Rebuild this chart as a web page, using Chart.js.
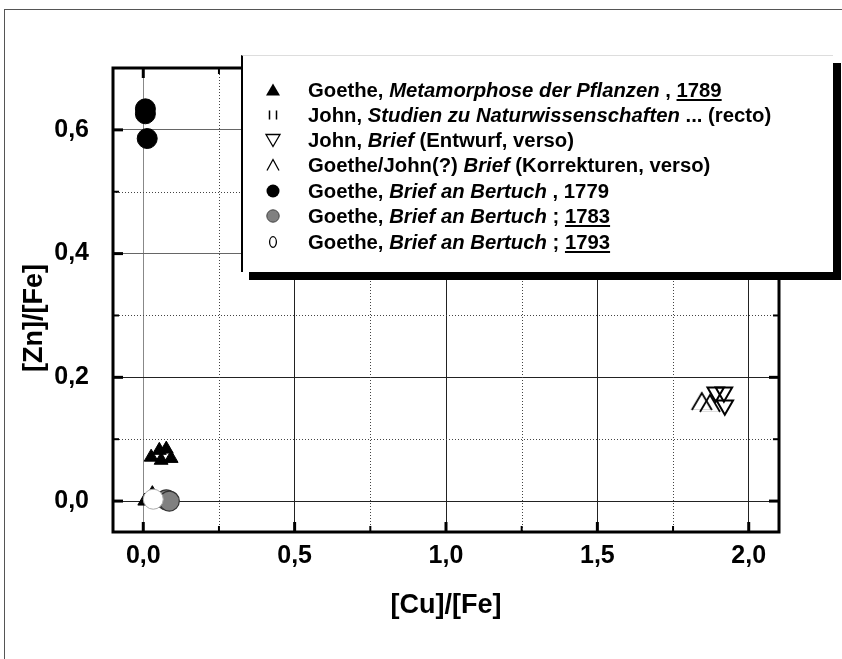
<!DOCTYPE html>
<html><head><meta charset="utf-8">
<script src="https://cdn.jsdelivr.net/npm/chart.js@4.4.1/dist/chart.umd.min.js"></script>
<style>
html,body{margin:0;padding:0;background:#fff;}
#wrap{position:relative;width:842px;height:659px;overflow:hidden;background:#fff;}
#frame{position:absolute;left:4px;top:9px;width:900px;height:700px;border-left:1.5px solid #555;border-top:1.5px solid #555;}
#c{position:absolute;left:0;top:0;}
#legend{position:absolute;left:241px;top:55px;width:592px;height:217px;background:#fff;border-left:2px solid #000;border-top:1px solid #ddd;box-shadow:8px 8px 0 #000;box-sizing:border-box;font-family:"Liberation Sans",Arial,sans-serif;font-weight:bold;font-size:20.3px;color:#000;}
.row{position:absolute;left:0;height:24px;line-height:24px;white-space:nowrap;}
.sym{position:absolute;left:20px;top:2px;}
.txt{position:absolute;left:65px;top:0;}
.txt i{font-style:italic;}
.txt u{text-decoration:underline;}
</style></head>
<body>
<div id="wrap">
  <div id="frame"></div>
  <canvas id="c" width="842" height="659"></canvas>
  <div id="legend"></div>
</div>
<script>
// ---------- data ----------
const seriesLabels = [
  [["Goethe, ",""],["Metamorphose der Pflanzen","i"],[" , ",""],["1789","u"]],
  [["John, ",""],["Studien zu Naturwissenschaften","i"],[" ... (recto)",""]],
  [["John, ",""],["Brief","i"],[" (Entwurf, verso)",""]],
  [["Goethe/John(?) ",""],["Brief","i"],[" (Korrekturen, verso)",""]],
  [["Goethe, ",""],["Brief an Bertuch","i"],[" , 1779",""]],
  [["Goethe, ",""],["Brief an Bertuch","i"],[" ; ",""],["1783","u"]],
  [["Goethe, ",""],["Brief an Bertuch","i"],[" ; ",""],["1793","u"]]
];
const metamorphoseX = [0.026, 0.053, 0.076, 0.092, 0.059, 0.030, 0.005];
const metamorphoseY = [0.071, 0.082, 0.084, 0.069, 0.066, 0.012, 0.000];
const studienX = [0.030];
const studienY = [0.003];
const entwurfX = [1.891, 1.918, 1.921];
const entwurfY = [0.176, 0.176, 0.155];
const korrekturX = [1.845, 1.872];
const korrekturY = [0.161, 0.158];
const bertuch1779X = [0.007, 0.007, 0.013];
const bertuch1779Y = [0.634, 0.626, 0.586];
const bertuch1783X = [0.076, 0.086];
const bertuch1783Y = [0.002, 0.000];
const bertuch1793X = [0.033];
const bertuch1793Y = [0.003];

const xMajorTicks = [0, 0.5, 1.0, 1.5, 2.0];
const xMinorTicks = [0.25, 0.75, 1.25, 1.75];
const yMajorTicks = [0, 0.2, 0.4, 0.6];
const yMinorTicks = [0.1, 0.3, 0.5];
const xTitle = "[Cu]/[Fe]";
const yTitle = "[Zn]/[Fe]";

// ---------- helpers ----------
const pts = (xs, ys) => xs.map((x, i) => ({x: x, y: ys[i]}));
const fmt = v => v.toFixed(1).replace('.', ',');

function chevronImg(w, h, lw, base) {
  const c = document.createElement('canvas');
  c.width = w + 4; c.height = h + 4;
  const g = c.getContext('2d');
  if (base) { g.strokeStyle = '#d8d8d8'; g.lineWidth = 1; g.beginPath(); g.moveTo(2, h + 1.5); g.lineTo(w + 2, h + 1.5); g.stroke(); }
  g.strokeStyle = '#000'; g.lineWidth = lw; g.lineJoin = 'miter';
  g.beginPath(); g.moveTo(2, h + 2); g.lineTo(w / 2 + 2, 2); g.lineTo(w + 2, h + 2); g.stroke();
  return c;
}

// legend symbols
function legendSym(k) {
  const c = document.createElement('canvas');
  c.width = 20; c.height = 20;
  const g = c.getContext('2d');
  const cx = 10, cy = 10;
  g.fillStyle = '#000'; g.strokeStyle = '#000'; g.lineWidth = 1.3;
  g.beginPath();
  if (k === 0) { g.moveTo(cx, cy - 6.5); g.lineTo(cx + 7, cy + 5.5); g.lineTo(cx - 7, cy + 5.5); g.closePath(); g.fill(); }
  else if (k === 1) { g.lineWidth = 1.5; g.moveTo(cx - 3.5, cy - 4.5); g.lineTo(cx - 3.5, cy + 4.5); g.moveTo(cx + 3.5, cy - 4.5); g.lineTo(cx + 3.5, cy + 4.5); g.stroke(); }
  else if (k === 2) { g.moveTo(cx - 7, cy - 5.5); g.lineTo(cx + 7, cy - 5.5); g.lineTo(cx, cy + 6.5); g.closePath(); g.stroke(); }
  else if (k === 3) { g.moveTo(cx - 6, cy + 5.5); g.lineTo(cx, cy - 5.5); g.lineTo(cx + 6, cy + 5.5); g.stroke(); }
  else if (k === 4) { g.arc(cx, cy, 6.5, 0, Math.PI * 2); g.fill(); }
  else if (k === 5) { g.fillStyle = '#808080'; g.strokeStyle = '#444'; g.lineWidth = 1; g.arc(cx, cy, 6.2, 0, Math.PI * 2); g.fill(); g.stroke(); }
  else if (k === 6) { g.lineWidth = 1.3; g.ellipse(cx, cy, 3.4, 5.3, 0, 0, Math.PI * 2); g.stroke(); }
  return c;
}

// build legend
const legend = document.getElementById('legend');
const rowCenters = [34, 59, 84, 109, 135, 160, 186];
seriesLabels.forEach((segs, i) => {
  const row = document.createElement('div');
  row.className = 'row';
  row.style.top = (rowCenters[i] - 12) + 'px';
  row.style.width = '585px';
  const s = document.createElement('div'); s.className = 'sym'; s.appendChild(legendSym(i)); row.appendChild(s);
  const t = document.createElement('div'); t.className = 'txt';
  segs.forEach(([txt, st]) => {
    let el;
    if (st === 'i') el = document.createElement('i');
    else if (st === 'u') el = document.createElement('u');
    else el = document.createElement('span');
    el.textContent = txt;
    el.style.whiteSpace = 'pre';
    t.appendChild(el);
  });
  row.appendChild(t);
  legend.appendChild(row);
});

const tickFont = {family: '"Liberation Sans", Arial, sans-serif', weight: 'bold', size: 25};
const titleFont = {family: '"Liberation Sans", Arial, sans-serif', weight: 'bold', size: 27};

// ---------- plugin: minor grid, inward ticks, frame, y title ----------
const framePlugin = {
  id: 'framePlugin',
  beforeDatasetsDraw(chart) {
    const {ctx, chartArea: a, scales: {x, y}} = chart;
    ctx.save();
    ctx.strokeStyle = '#444'; ctx.lineWidth = 1; ctx.setLineDash([1, 2]);
    xMinorTicks.forEach(v => { const px = Math.round(x.getPixelForValue(v)) + 0.5; ctx.beginPath(); ctx.moveTo(px, a.top); ctx.lineTo(px, a.bottom); ctx.stroke(); });
    yMinorTicks.forEach(v => { const py = Math.round(y.getPixelForValue(v)) + 0.5; ctx.beginPath(); ctx.moveTo(a.left, py); ctx.lineTo(a.right, py); ctx.stroke(); });
    ctx.restore();
  },
  afterDatasetsDraw(chart) {
    const {ctx, chartArea: a, scales: {x, y}} = chart;
    ctx.save();
    ctx.strokeStyle = '#000';
    const tick = (x1, y1, x2, y2, w) => { ctx.lineWidth = w; ctx.beginPath(); ctx.moveTo(x1, y1); ctx.lineTo(x2, y2); ctx.stroke(); };
    xMajorTicks.forEach(v => { const px = x.getPixelForValue(v); tick(px, a.bottom, px, a.bottom - 10, 3); tick(px, a.top, px, a.top + 10, 3); });
    xMinorTicks.forEach(v => { const px = x.getPixelForValue(v); tick(px, a.bottom, px, a.bottom - 6, 2); tick(px, a.top, px, a.top + 6, 2); });
    yMajorTicks.forEach(v => { const py = y.getPixelForValue(v); tick(a.left, py, a.left + 10, py, 3); tick(a.right, py, a.right - 10, py, 3); });
    yMinorTicks.forEach(v => { const py = y.getPixelForValue(v); tick(a.left, py, a.left + 6, py, 2); tick(a.right, py, a.right - 6, py, 2); });
    ctx.lineWidth = 3;
    ctx.strokeRect(a.left, a.top, a.right - a.left, a.bottom - a.top);
    // y axis title
    ctx.translate(35, (a.top + a.bottom) / 2 + 18);
    ctx.rotate(-Math.PI / 2);
    ctx.font = 'bold 27px "Liberation Sans", Arial, sans-serif';
    ctx.fillStyle = '#000';
    ctx.textAlign = 'center';
    ctx.textBaseline = 'middle';
    ctx.fillText(yTitle, 0, 0);
    ctx.restore();
  }
};

const chevron = chevronImg(20, 17, 1.8, true);

new Chart(document.getElementById('c'), {
  type: 'scatter',
  data: {
    datasets: [
      {label: 'Metamorphose', data: pts(metamorphoseX, metamorphoseY), pointStyle: 'triangle', pointRadius: 8, backgroundColor: '#000', borderColor: '#000', borderWidth: 1, order: 3},
      {label: 'Studien', data: pts(studienX, studienY), pointStyle: 'rect', pointRadius: 6, backgroundColor: '#fff', borderColor: '#000', borderWidth: 1, order: 4},
      {label: 'Entwurf', data: pts(entwurfX, entwurfY), pointStyle: 'triangle', rotation: 180, pointRadius: 9.5, backgroundColor: 'rgba(0,0,0,0)', borderColor: '#000', borderWidth: 2, order: 5},
      {label: 'Korrekturen', data: pts(korrekturX, korrekturY), pointStyle: chevron, pointRadius: 10, backgroundColor: 'rgba(0,0,0,0)', borderColor: '#000', order: 6},
      {label: '1779', data: pts(bertuch1779X, bertuch1779Y), pointStyle: 'circle', pointRadius: 10, backgroundColor: '#000', borderColor: '#000', borderWidth: 1, order: 2},
      {label: '1783', data: pts(bertuch1783X, bertuch1783Y), pointStyle: 'circle', pointRadius: 10, backgroundColor: '#808080', borderColor: '#333', borderWidth: 1.2, order: 1},
      {label: '1793', data: pts(bertuch1793X, bertuch1793Y), pointStyle: 'circle', pointRadius: 10, backgroundColor: '#fff', borderColor: '#aaa', borderWidth: 1, order: 0}
    ]
  },
  options: {
    responsive: false,
    animation: false,
    events: [],
    layout: {padding: {left: 0, top: 68, right: 63, bottom: 0}},
    plugins: {legend: {display: false}, tooltip: {enabled: false}},
    scales: {
      x: {
        type: 'linear', min: -0.1, max: 2.1,
        afterBuildTicks: s => { s.ticks = xMajorTicks.map(v => ({value: v})); },
        afterFit: s => { s.height = 127; },
        ticks: {callback: v => fmt(v), font: tickFont, color: '#000', padding: 9, maxRotation: 0, autoSkip: false},
        grid: {drawTicks: false, color: c => (c.tick && c.tick.value === 0 ? '#888' : '#222'), lineWidth: 1},
        border: {display: false},
        title: {display: true, text: xTitle, font: titleFont, color: '#000', padding: {top: 0, bottom: 37}}
      },
      y: {
        type: 'linear', min: -0.05, max: 0.7,
        afterBuildTicks: s => { s.ticks = yMajorTicks.map(v => ({value: v})); },
        afterFit: s => { s.width = 113; },
        ticks: {callback: v => fmt(v), font: tickFont, color: '#000', padding: 24, autoSkip: false},
        grid: {drawTicks: false, color: c => (c.tick && (c.tick.value === 0 || Math.abs(c.tick.value - 0.2) < 1e-9) ? '#222' : '#666'), lineWidth: 1},
        border: {display: false},
        title: {display: false}
      }
    }
  },
  plugins: [framePlugin]
});
</script>
</body></html>
